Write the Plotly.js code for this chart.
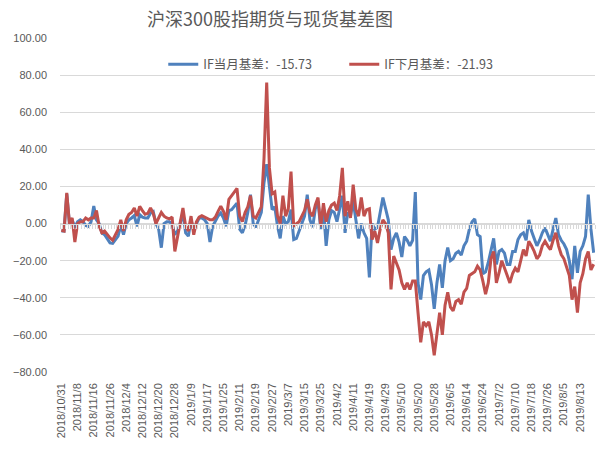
<!DOCTYPE html>
<html>
<head>
<meta charset="utf-8">
<script src="https://cdn.plot.ly/plotly-3.0.1.min.js"></script>
<style>html,body{margin:0;padding:0;background:#fff;}#chart{width:596px;height:450px;}</style>
</head>
<body>
<div id="chart"></div>
<script>
// Trading days (categories)
const dates = [
"2018/10/31","2018/11/1","2018/11/2","2018/11/5","2018/11/6","2018/11/7","2018/11/8","2018/11/9","2018/11/12","2018/11/13",
"2018/11/14","2018/11/15","2018/11/16","2018/11/19","2018/11/20","2018/11/21","2018/11/22","2018/11/23","2018/11/26","2018/11/27",
"2018/11/28","2018/11/29","2018/11/30","2018/12/3","2018/12/4","2018/12/5","2018/12/6","2018/12/7","2018/12/10","2018/12/11",
"2018/12/12","2018/12/13","2018/12/14","2018/12/17","2018/12/18","2018/12/19","2018/12/20","2018/12/21","2018/12/24","2018/12/25",
"2018/12/26","2018/12/27","2018/12/28","2019/1/2","2019/1/3","2019/1/4","2019/1/7","2019/1/8","2019/1/9","2019/1/10",
"2019/1/11","2019/1/14","2019/1/15","2019/1/16","2019/1/17","2019/1/18","2019/1/21","2019/1/22","2019/1/23","2019/1/24",
"2019/1/25","2019/1/28","2019/1/29","2019/1/30","2019/1/31","2019/2/1","2019/2/11","2019/2/12","2019/2/13","2019/2/14",
"2019/2/15","2019/2/18","2019/2/19","2019/2/20","2019/2/21","2019/2/22","2019/2/25","2019/2/26","2019/2/27","2019/2/28",
"2019/3/1","2019/3/4","2019/3/5","2019/3/6","2019/3/7","2019/3/8","2019/3/11","2019/3/12","2019/3/13","2019/3/14",
"2019/3/15","2019/3/18","2019/3/19","2019/3/20","2019/3/21","2019/3/22","2019/3/25","2019/3/26","2019/3/27","2019/3/28",
"2019/3/29","2019/4/1","2019/4/2","2019/4/3","2019/4/4","2019/4/8","2019/4/9","2019/4/10","2019/4/11","2019/4/12",
"2019/4/15","2019/4/16","2019/4/17","2019/4/18","2019/4/19","2019/4/22","2019/4/23","2019/4/24","2019/4/25","2019/4/26",
"2019/4/29","2019/4/30","2019/5/6","2019/5/7","2019/5/8","2019/5/9","2019/5/10","2019/5/13","2019/5/14","2019/5/15",
"2019/5/16","2019/5/17","2019/5/20","2019/5/21","2019/5/22","2019/5/23","2019/5/24","2019/5/27","2019/5/28","2019/5/29",
"2019/5/30","2019/5/31","2019/6/3","2019/6/4","2019/6/5","2019/6/6","2019/6/10","2019/6/11","2019/6/12","2019/6/13",
"2019/6/14","2019/6/17","2019/6/18","2019/6/19","2019/6/20","2019/6/21","2019/6/24","2019/6/25","2019/6/26","2019/6/27",
"2019/6/28","2019/7/1","2019/7/2","2019/7/3","2019/7/4","2019/7/5","2019/7/8","2019/7/9","2019/7/10","2019/7/11",
"2019/7/12","2019/7/15","2019/7/16","2019/7/17","2019/7/18","2019/7/19","2019/7/22","2019/7/23","2019/7/24","2019/7/25",
"2019/7/26","2019/7/29","2019/7/30","2019/7/31","2019/8/1","2019/8/2","2019/8/5","2019/8/6","2019/8/7","2019/8/8",
"2019/8/9","2019/8/12","2019/8/13","2019/8/14","2019/8/15","2019/8/16","2019/8/19","2019/8/20"
];

// IF current-month basis
const ifCurrent = [
-4,-4,16,0,2,-2,1,2,1,-1,
-1.5,1,9.5,2,0,-5,-6,-8.6,-10.4,-10.7,
-9,-6.8,-1,-6,0,2,3,4.3,-1.5,4.8,
3.5,3,3,5.7,6.5,0,-3,-13,0,1,
1,-0.5,-6,-4,0,5.7,-5,-6.8,2,-4,
0,3,3,2,0,-10,-1.5,1.5,4,5.7,
3,-1.5,7,7.5,9,11,-3,-5,-1,6,
15.6,0,-2,2,6,22,32,20,7.5,9,
-1.5,-8,4,0,1,7.5,-8.6,-8,-4,0,
4,15.6,2,-2,8,12,-3,8,-12,2,
7,6,1,8,15,-5,6,4,12,2,
-8,0,-5,-8,-29,0,-3,-2,6,14,
8,2,-14,-8,-5,-10,-18,-7,-9,-12,
-9,17,-32,-41,-28,-26,-25,-33,-46,-32,
-22,-34.6,-20,-13,-20,-19,-16,-15,-17,-12,
-9.5,-3,1,2.5,-6,-7,-27,-26,-21,-15,
-8,-22,-15,-14,-16,-22,-22,-15,-15,-8.6,
-6,-5,-9,2,-4,-8,-12,-9,-5,-2.3,
-6,-9.5,-3,3,-6,-9,-11,-14,-20,-30,
-12,-26.5,-15,-12,-7,15.6,-3,-15.73
];

// IF next-month basis
const ifNext = [
-3.6,-4,16.5,0,3,-10,0,1,1,3,
2,3,3,7,-1.5,-5,-4,-6,-7.7,-9,
-6.5,-3.2,2,-4,2,5,6,8.4,4,9.3,
7,5,5.5,8.4,5.5,0,3,6,4,3,
2.5,3.5,-15,-7,1,8.4,-1.5,-4,4,-6,
1,3.5,4.3,3.5,3,2,2,3.5,6.6,9.3,
6.6,2,13,14.7,17,19,4,1,6,9,
15,4,3,6,9,35,76,30,16,17,
4,0,15,4,8,28,-1.5,0,1,4,
7,13,6,4,10,14,-1.5,11,1,7,
10,11,7,15,30,4,12,3,21,7.5,
4,14,4,7.5,8,-8.6,-4,-10.5,-3,2,
0,-5,-35.5,-17.5,-21,-25,-32,-35.5,-32,-35.5,
-31,-31,-48,-64,-53,-55,-53,-60,-71,-60,
-48,-60,-44,-37,-45,-47,-42,-41,-43.5,-37,
-35,-28,-27,-26,-23,-25,-31,-38,-32,-19,
-15,-32,-26.5,-20,-24,-28,-32,-27,-24,-26,
-20,-14,-17.5,-9.5,-12,-15,-19,-17,-12,-9.5,
-12,-14,-9,-5,-12,-16.7,-19,-23,-28,-41,
-34,-48,-32,-27,-19,-15,-25,-21.93
];

const tickLabels = [
"2018/10/31","2018/11/8","2018/11/16","2018/11/26","2018/12/4","2018/12/12","2018/12/20","2018/12/28",
"2019/1/9","2019/1/17","2019/1/25","2019/2/11","2019/2/19","2019/2/27","2019/3/7","2019/3/15","2019/3/25",
"2019/4/2","2019/4/11","2019/4/19","2019/4/29","2019/5/10","2019/5/20","2019/5/28","2019/6/5","2019/6/14",
"2019/6/24","2019/7/2","2019/7/10","2019/7/18","2019/7/26","2019/8/5","2019/8/13"
];

const seriesNames = ["IF当月基差：-15.73", "IF下月基差：-21.93"];

const fontFam = "Liberation Sans, Arial, Noto Sans CJK SC, sans-serif";
const grey = "#595959";
const nCat = dates.length;

const traces = [
  {x: dates, y: ifCurrent, name: seriesNames[0], type: "scatter", mode: "lines",
   line: {color: "#4F81BD", width: 3}, hoverinfo: "x+y"},
  {x: dates, y: ifNext, name: seriesNames[1], type: "scatter", mode: "lines",
   line: {color: "#C0504D", width: 3}, hoverinfo: "x+y"},
  {x: dates, y: dates.map(() => null), xaxis: "x2", showlegend: false, hoverinfo: "skip",
   type: "scatter", mode: "lines"}
];

const layout = {
  width: 596, height: 450,
  margin: {l: 60, r: 1, t: 38, b: 78, autoexpand: false},
  paper_bgcolor: "#ffffff", plot_bgcolor: "#ffffff",
  title: {text: "沪深300股指期货与现货基差图", x: 270 / 596, xref: "container", xanchor: "center",
          y: 1 - 20 / 450, yref: "container", yanchor: "middle",
          font: {family: "Noto Sans CJK SC, sans-serif", size: 18, color: grey}},
  showlegend: true,
  legend: {orientation: "h", x: 0.193, xref: "paper", xanchor: "left",
           y: 0.92, yanchor: "middle",
           font: {family: "Noto Sans CJK SC, Liberation Sans, sans-serif", size: 12.5, color: grey},
           bgcolor: "rgba(0,0,0,0)", entrywidth: 136, entrywidthmode: "pixels"},
  xaxis: {type: "category", categoryorder: "array", categoryarray: dates,
          range: [-0.5, nCat - 0.5], tickmode: "array", tickvals: tickLabels, ticktext: tickLabels,
          tickangle: -90, showgrid: false, zeroline: false, showline: false, ticks: "",
          ticklabelstandoff: 8,
          tickfont: {family: fontFam, size: 11, color: grey}},
  xaxis2: {type: "category", categoryorder: "array", categoryarray: dates,
           overlaying: "x", anchor: "free", position: 80 / 180,
           range: [-0.5, nCat - 0.5], tickmode: "linear", tick0: 0, dtick: 1,
           tickson: "boundaries", ticks: "outside", ticklen: 4, tickcolor: "#d9d9d9", tickwidth: 1,
           showticklabels: false, showgrid: false, zeroline: false,
           showline: true, linecolor: "#d9d9d9", linewidth: 1},
  yaxis: {range: [-80, 100], tickmode: "linear", tick0: -80, dtick: 20, tickformat: ".2f",
          showgrid: true, gridcolor: "#d9d9d9", gridwidth: 1, zeroline: false, showline: false,
          ticks: "", ticklabelstandoff: 12,
          tickfont: {family: fontFam, size: 11, color: grey}}
};

Plotly.newPlot("chart", traces, layout, {displayModeBar: false, staticPlot: true});
</script>
</body>
</html>
